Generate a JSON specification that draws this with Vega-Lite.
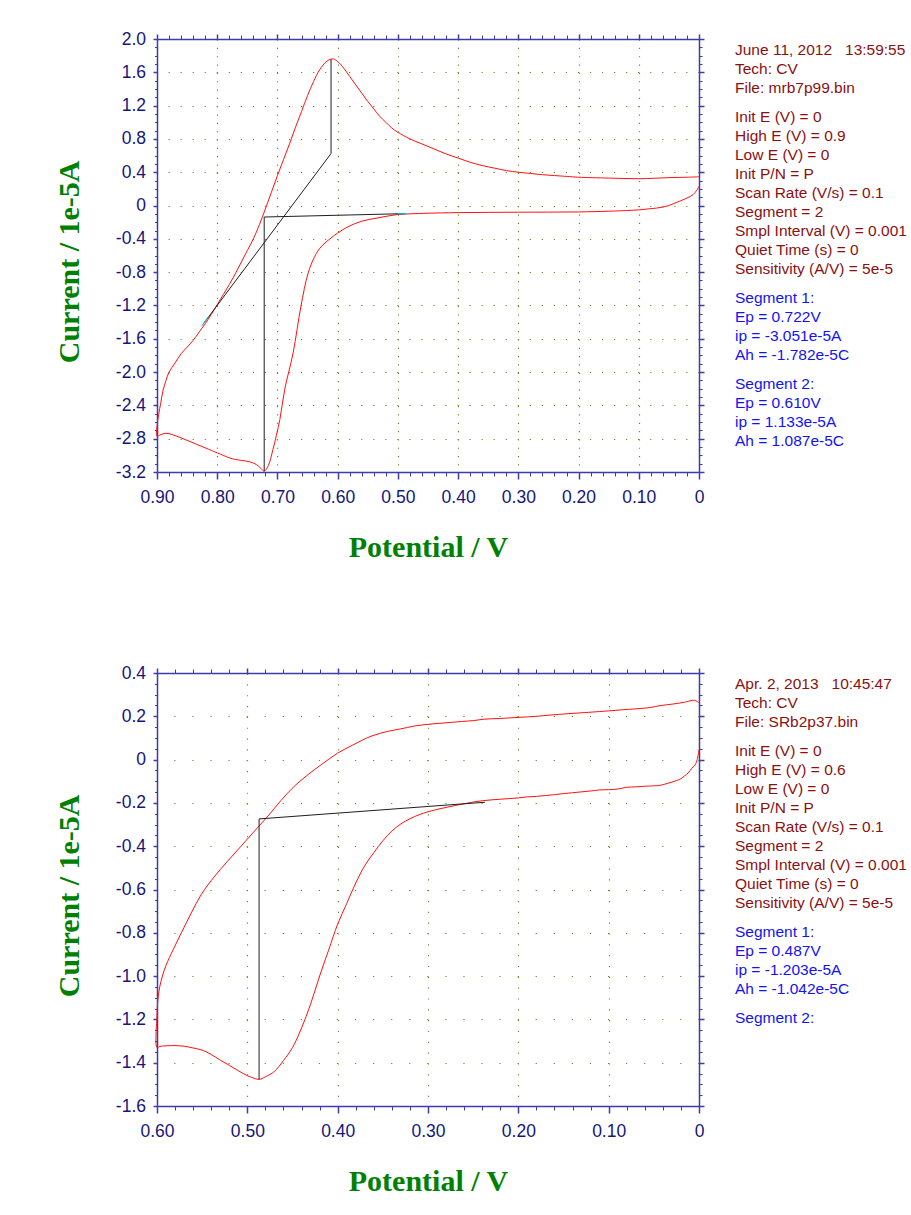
{
  "$schema": "https://vega.github.io/schema/vega-lite/v6.json",
  "padding": {"left": 54, "top": 30, "right": 0, "bottom": 0},
  "background": "white",
  "config": {"view": {"stroke": null}, "font": "Liberation Sans"},
  "datasets": {
    "cv1": [
      {"i":1,"E":0,"I":0.232},{"i":2,"E":0.004,"I":0.18},{"i":3,"E":0.01,"I":0.13},{"i":4,"E":0.02,"I":0.09},{"i":5,"E":0.03,"I":0.058},{"i":6,"E":0.04,"I":0.03},{"i":7,"E":0.05,"I":0.0},{"i":8,"E":0.06,"I":-0.018},{"i":9,"E":0.07,"I":-0.03},{"i":10,"E":0.08,"I":-0.037},{"i":11,"E":0.1,"I":-0.052},{"i":12,"E":0.12,"I":-0.06},{"i":13,"E":0.15,"I":-0.068},{"i":14,"E":0.2,"I":-0.077},{"i":15,"E":0.25,"I":-0.079},{"i":16,"E":0.3,"I":-0.08},{"i":17,"E":0.35,"I":-0.082},{"i":18,"E":0.4,"I":-0.085},{"i":19,"E":0.45,"I":-0.092},{"i":20,"E":0.48,"I":-0.1},{"i":21,"E":0.5,"I":-0.108},{"i":22,"E":0.533,"I":-0.148},{"i":23,"E":0.561,"I":-0.19},{"i":24,"E":0.583,"I":-0.256},{"i":25,"E":0.6,"I":-0.33},{"i":26,"E":0.611,"I":-0.39},{"i":27,"E":0.627,"I":-0.49},{"i":28,"E":0.638,"I":-0.61},{"i":29,"E":0.649,"I":-0.81},{"i":30,"E":0.661,"I":-1.21},{"i":31,"E":0.674,"I":-1.77},{"i":32,"E":0.688,"I":-2.21},{"i":33,"E":0.696,"I":-2.57},{"i":34,"E":0.7075,"I":-2.93},{"i":35,"E":0.715,"I":-3.12},{"i":36,"E":0.722,"I":-3.19},{"i":37,"E":0.727,"I":-3.16},{"i":38,"E":0.735,"I":-3.11},{"i":39,"E":0.745,"I":-3.08},{"i":40,"E":0.76,"I":-3.06},{"i":41,"E":0.77,"I":-3.05},{"i":42,"E":0.78,"I":-3.03},{"i":43,"E":0.79,"I":-3.0},{"i":44,"E":0.8,"I":-2.97},{"i":45,"E":0.82,"I":-2.91},{"i":46,"E":0.84,"I":-2.85},{"i":47,"E":0.86,"I":-2.79},{"i":48,"E":0.875,"I":-2.75},{"i":49,"E":0.885,"I":-2.735},{"i":50,"E":0.895,"I":-2.755},{"i":51,"E":0.9,"I":-2.77},
      {"i":52,"E":0.9,"I":-2.65},{"i":53,"E":0.897,"I":-2.5},{"i":54,"E":0.894,"I":-2.38},{"i":55,"E":0.89,"I":-2.22},{"i":56,"E":0.885,"I":-2.1},{"i":57,"E":0.88,"I":-2.0},{"i":58,"E":0.87,"I":-1.89},{"i":59,"E":0.86,"I":-1.78},{"i":60,"E":0.85,"I":-1.7},{"i":61,"E":0.84,"I":-1.62},{"i":62,"E":0.83,"I":-1.52},{"i":63,"E":0.82,"I":-1.42},{"i":64,"E":0.81,"I":-1.31},{"i":65,"E":0.8,"I":-1.19},{"i":66,"E":0.79,"I":-1.07},{"i":67,"E":0.78,"I":-0.95},{"i":68,"E":0.77,"I":-0.82},{"i":69,"E":0.76,"I":-0.68},{"i":70,"E":0.75,"I":-0.54},{"i":71,"E":0.74,"I":-0.4},{"i":72,"E":0.73,"I":-0.23},{"i":73,"E":0.72,"I":-0.04},{"i":74,"E":0.71,"I":0.16},{"i":75,"E":0.7,"I":0.36},{"i":76,"E":0.69,"I":0.55},{"i":77,"E":0.68,"I":0.74},{"i":78,"E":0.67,"I":0.94},{"i":79,"E":0.66,"I":1.13},{"i":80,"E":0.65,"I":1.32},{"i":81,"E":0.64,"I":1.49},{"i":82,"E":0.63,"I":1.63},{"i":83,"E":0.62,"I":1.72},{"i":84,"E":0.613,"I":1.755},{"i":85,"E":0.607,"I":1.76},{"i":86,"E":0.6,"I":1.73},{"i":87,"E":0.59,"I":1.65},{"i":88,"E":0.58,"I":1.55},{"i":89,"E":0.57,"I":1.45},{"i":90,"E":0.56,"I":1.35},{"i":91,"E":0.55,"I":1.25},{"i":92,"E":0.54,"I":1.16},{"i":93,"E":0.53,"I":1.07},{"i":94,"E":0.52,"I":1.0},{"i":95,"E":0.51,"I":0.93},{"i":96,"E":0.5,"I":0.88},{"i":97,"E":0.48,"I":0.8},{"i":98,"E":0.46,"I":0.74},{"i":99,"E":0.44,"I":0.68},{"i":100,"E":0.42,"I":0.62},{"i":101,"E":0.4,"I":0.57},{"i":102,"E":0.38,"I":0.52},{"i":103,"E":0.36,"I":0.48},{"i":104,"E":0.34,"I":0.45},{"i":105,"E":0.32,"I":0.42},{"i":106,"E":0.3,"I":0.4},{"i":107,"E":0.28,"I":0.385},{"i":108,"E":0.26,"I":0.37},{"i":109,"E":0.24,"I":0.36},{"i":110,"E":0.22,"I":0.35},{"i":111,"E":0.2,"I":0.34},{"i":112,"E":0.15,"I":0.33},{"i":113,"E":0.1,"I":0.322},{"i":114,"E":0.05,"I":0.335},{"i":115,"E":0.02,"I":0.34},{"i":116,"E":0,"I":0.345}
    ],
    "base1": [
      {"seg":"a","i":1,"E":0.487,"I":-0.097},{"seg":"a","i":2,"E":0.722,"I":-0.138},{"seg":"a","i":3,"E":0.722,"I":-3.19},
      {"seg":"b","i":1,"E":0.824,"I":-1.43},{"seg":"b","i":2,"E":0.611,"I":0.624},{"seg":"b","i":3,"E":0.611,"I":1.757}
    ],
    "cyan1": [
      {"seg":"c","i":1,"E":0.5,"I":-0.1},{"seg":"c","i":2,"E":0.485,"I":-0.097},
      {"seg":"d","i":1,"E":0.826,"I":-1.45},{"seg":"d","i":2,"E":0.815,"I":-1.335}
    ],
    "cv2": [
      {"i":1,"E":0,"I":0.046},{"i":2,"E":0.002,"I":0.0},{"i":3,"E":0.004,"I":-0.022},{"i":4,"E":0.008,"I":-0.04},{"i":5,"E":0.012,"I":-0.062},{"i":6,"E":0.016,"I":-0.075},{"i":7,"E":0.02,"I":-0.088},{"i":8,"E":0.025,"I":-0.097},{"i":9,"E":0.03,"I":-0.104},{"i":10,"E":0.035,"I":-0.11},{"i":11,"E":0.04,"I":-0.116},{"i":12,"E":0.045,"I":-0.12},{"i":13,"E":0.05,"I":-0.121},{"i":14,"E":0.06,"I":-0.123},{"i":15,"E":0.07,"I":-0.126},{"i":16,"E":0.08,"I":-0.128},{"i":17,"E":0.09,"I":-0.136},{"i":18,"E":0.1,"I":-0.139},{"i":19,"E":0.11,"I":-0.14},{"i":20,"E":0.12,"I":-0.145},{"i":21,"E":0.13,"I":-0.149},{"i":22,"E":0.14,"I":-0.153},{"i":23,"E":0.15,"I":-0.157},{"i":24,"E":0.16,"I":-0.162},{"i":25,"E":0.17,"I":-0.166},{"i":26,"E":0.18,"I":-0.17},{"i":27,"E":0.19,"I":-0.172},{"i":28,"E":0.2,"I":-0.177},{"i":29,"E":0.21,"I":-0.18},{"i":30,"E":0.22,"I":-0.183},{"i":31,"E":0.23,"I":-0.186},{"i":32,"E":0.24,"I":-0.19},{"i":33,"E":0.25,"I":-0.196},{"i":34,"E":0.26,"I":-0.204},{"i":35,"E":0.27,"I":-0.212},{"i":36,"E":0.28,"I":-0.221},{"i":37,"E":0.29,"I":-0.23},{"i":38,"E":0.3,"I":-0.241},{"i":39,"E":0.31,"I":-0.255},{"i":40,"E":0.32,"I":-0.273},{"i":41,"E":0.33,"I":-0.297},{"i":42,"E":0.34,"I":-0.33},{"i":43,"E":0.35,"I":-0.375},{"i":44,"E":0.36,"I":-0.43},{"i":45,"E":0.37,"I":-0.49},{"i":46,"E":0.38,"I":-0.57},{"i":47,"E":0.39,"I":-0.665},{"i":48,"E":0.4,"I":-0.76},{"i":49,"E":0.41,"I":-0.88},{"i":50,"E":0.42,"I":-1.0},{"i":51,"E":0.43,"I":-1.13},{"i":52,"E":0.44,"I":-1.24},{"i":53,"E":0.45,"I":-1.33},{"i":54,"E":0.46,"I":-1.39},{"i":55,"E":0.47,"I":-1.44},{"i":56,"E":0.48,"I":-1.465},{"i":57,"E":0.487,"I":-1.477},{"i":58,"E":0.495,"I":-1.468},{"i":59,"E":0.5,"I":-1.46},{"i":60,"E":0.51,"I":-1.437},{"i":61,"E":0.52,"I":-1.412},{"i":62,"E":0.53,"I":-1.388},{"i":63,"E":0.54,"I":-1.362},{"i":64,"E":0.55,"I":-1.342},{"i":65,"E":0.56,"I":-1.332},{"i":66,"E":0.57,"I":-1.324},{"i":67,"E":0.58,"I":-1.321},{"i":68,"E":0.59,"I":-1.322},{"i":69,"E":0.597,"I":-1.325},{"i":70,"E":0.6,"I":-1.33},
      {"i":71,"E":0.6,"I":-1.18},{"i":72,"E":0.599,"I":-1.108},{"i":73,"E":0.597,"I":-1.05},{"i":74,"E":0.594,"I":-1.0},{"i":75,"E":0.59,"I":-0.95},{"i":76,"E":0.582,"I":-0.877},{"i":77,"E":0.573,"I":-0.8},{"i":78,"E":0.562,"I":-0.708},{"i":79,"E":0.551,"I":-0.623},{"i":80,"E":0.536,"I":-0.538},{"i":81,"E":0.522,"I":-0.47},{"i":82,"E":0.507,"I":-0.4},{"i":83,"E":0.492,"I":-0.33},{"i":84,"E":0.477,"I":-0.26},{"i":85,"E":0.463,"I":-0.19},{"i":86,"E":0.448,"I":-0.123},{"i":87,"E":0.433,"I":-0.07},{"i":88,"E":0.418,"I":-0.023},{"i":89,"E":0.4,"I":0.03},{"i":90,"E":0.382,"I":0.07},{"i":91,"E":0.363,"I":0.108},{"i":92,"E":0.345,"I":0.13},{"i":93,"E":0.33,"I":0.142},{"i":94,"E":0.315,"I":0.155},{"i":95,"E":0.3,"I":0.163},{"i":96,"E":0.28,"I":0.17},{"i":97,"E":0.263,"I":0.176},{"i":98,"E":0.25,"I":0.18},{"i":99,"E":0.237,"I":0.187},{"i":100,"E":0.22,"I":0.19},{"i":101,"E":0.2,"I":0.195},{"i":102,"E":0.18,"I":0.2},{"i":103,"E":0.164,"I":0.206},{"i":104,"E":0.145,"I":0.212},{"i":105,"E":0.127,"I":0.217},{"i":106,"E":0.11,"I":0.222},{"i":107,"E":0.1,"I":0.225},{"i":108,"E":0.085,"I":0.23},{"i":109,"E":0.071,"I":0.234},{"i":110,"E":0.055,"I":0.24},{"i":111,"E":0.042,"I":0.25},{"i":112,"E":0.03,"I":0.256},{"i":113,"E":0.016,"I":0.265},{"i":114,"E":0.005,"I":0.274},{"i":115,"E":0,"I":0.262}
    ],
    "base2": [
      {"seg":"a","i":1,"E":0.237,"I":-0.197},{"seg":"a","i":2,"E":0.487,"I":-0.274},{"seg":"a","i":3,"E":0.487,"I":-1.477}
    ],
    "txt1": [
      {"col":0,"k":0,"kind":"info","t":"June 11, 2012\u00a0\u00a0\u00a013:59:55"},
      {"col":0,"k":1,"kind":"info","t":"Tech: CV"},
      {"col":0,"k":2,"kind":"info","t":"File: mrb7p99.bin"},
      {"col":0,"k":3.5,"kind":"info","t":"Init E (V) = 0"},
      {"col":0,"k":4.5,"kind":"info","t":"High E (V) = 0.9"},
      {"col":0,"k":5.5,"kind":"info","t":"Low E (V) = 0"},
      {"col":0,"k":6.5,"kind":"info","t":"Init P/N = P"},
      {"col":0,"k":7.5,"kind":"info","t":"Scan Rate (V/s) = 0.1"},
      {"col":0,"k":8.5,"kind":"info","t":"Segment = 2"},
      {"col":0,"k":9.5,"kind":"info","t":"Smpl Interval (V) = 0.001"},
      {"col":0,"k":10.5,"kind":"info","t":"Quiet Time (s) = 0"},
      {"col":0,"k":11.5,"kind":"info","t":"Sensitivity (A/V) = 5e-5"},
      {"col":0,"k":13,"kind":"result","t":"Segment 1:"},
      {"col":0,"k":14,"kind":"result","t":"Ep = 0.722V"},
      {"col":0,"k":15,"kind":"result","t":"ip = -3.051e-5A"},
      {"col":0,"k":16,"kind":"result","t":"Ah = -1.782e-5C"},
      {"col":0,"k":17.5,"kind":"result","t":"Segment 2:"},
      {"col":0,"k":18.5,"kind":"result","t":"Ep = 0.610V"},
      {"col":0,"k":19.5,"kind":"result","t":"ip = 1.133e-5A"},
      {"col":0,"k":20.5,"kind":"result","t":"Ah = 1.087e-5C"}
    ],
    "txt2": [
      {"col":0,"k":0,"kind":"info","t":"Apr. 2, 2013\u00a0\u00a0\u00a010:45:47"},
      {"col":0,"k":1,"kind":"info","t":"Tech: CV"},
      {"col":0,"k":2,"kind":"info","t":"File: SRb2p37.bin"},
      {"col":0,"k":3.5,"kind":"info","t":"Init E (V) = 0"},
      {"col":0,"k":4.5,"kind":"info","t":"High E (V) = 0.6"},
      {"col":0,"k":5.5,"kind":"info","t":"Low E (V) = 0"},
      {"col":0,"k":6.5,"kind":"info","t":"Init P/N = P"},
      {"col":0,"k":7.5,"kind":"info","t":"Scan Rate (V/s) = 0.1"},
      {"col":0,"k":8.5,"kind":"info","t":"Segment = 2"},
      {"col":0,"k":9.5,"kind":"info","t":"Smpl Interval (V) = 0.001"},
      {"col":0,"k":10.5,"kind":"info","t":"Quiet Time (s) = 0"},
      {"col":0,"k":11.5,"kind":"info","t":"Sensitivity (A/V) = 5e-5"},
      {"col":0,"k":13,"kind":"result","t":"Segment 1:"},
      {"col":0,"k":14,"kind":"result","t":"Ep = 0.487V"},
      {"col":0,"k":15,"kind":"result","t":"ip = -1.203e-5A"},
      {"col":0,"k":16,"kind":"result","t":"Ah = -1.042e-5C"},
      {"col":0,"k":17.5,"kind":"result","t":"Segment 2:"}
    ]
  },
  "columns": 2,
  "spacing": {"row": 201, "column": 36},
  "bounds": "flush",
  "concat": [
    {
      "width": 542, "height": 433,
      "resolve": {"axis": {"x": "independent", "y": "independent"}},
      "layer": [
        {
          "data": {"name": "cv1"},
          "mark": {"type": "line", "color": "#ff1010", "strokeWidth": 1, "interpolate": "catmull-rom"},
          "encoding": {
            "x": {"field": "E", "type": "quantitative",
              "scale": {"domain": [0, 0.9], "reverse": true, "nice": false, "zero": false},
              "axis": {"orient": "bottom", "values": [0.9,0.8,0.7,0.6,0.5,0.4,0.3,0.2,0.1,0],
                "labelExpr": "datum.value === 0 ? '0' : format(datum.value, '.2f')",
                "labelFont": "Liberation Sans", "labelFontSize": 17.5, "labelColor": "#16167a", "labelPadding": 9,
                "labelFlush": false, "labelOverlap": false,
                "domain": true, "domainColor": "#3c3cae", "domainWidth": 1.5,
                "ticks": true, "tickSize": 7, "tickColor": "#3c3cae", "tickWidth": 1.5,
                "grid": true, "gridColor": "#6b8e23", "gridDash": [1.2, 7.13], "gridWidth": 1.2,
                "title": "Potential / V", "titleFont": "Liberation Serif", "titleFontSize": 30, "titleFontWeight": "bold",
                "titleColor": "#008000", "titleX": 271, "titleY": 84.7, "titleBaseline": "alphabetic", "titleAlign": "center", "titleAngle": 0}},
            "y": {"field": "I", "type": "quantitative",
              "scale": {"domain": [-3.2, 2.0], "nice": false, "zero": false},
              "axis": {"orient": "left", "values": [-3.2,-2.8,-2.4,-2.0,-1.6,-1.2,-0.8,-0.4,0,0.4,0.8,1.2,1.6,2.0],
                "labelExpr": "datum.value === 0 ? '0' : replace(format(datum.value, '.1f'), '\u2212', '-')",
                "labelFont": "Liberation Sans", "labelFontSize": 17.5, "labelColor": "#16167a", "labelPadding": 7.5,
                "labelFlush": false, "labelOverlap": false,
                "domain": true, "domainColor": "#3c3cae", "domainWidth": 1.5,
                "ticks": true, "tickSize": 4, "tickColor": "#3c3cae", "tickWidth": 1.5,
                "grid": true, "gridColor": "#6b8e23", "gridDash": [1.2, 10.84], "gridWidth": 1.2,
                "title": "Current / 1e-5A", "titleFont": "Liberation Serif", "titleFontSize": 30, "titleFontWeight": "bold",
                "titleColor": "#008000", "titleX": -78.2, "titleY": 222.4, "titleBaseline": "alphabetic", "titleAlign": "center", "titleAngle": 270}},
            "order": {"field": "i"}
          }
        },
        {
          "data": {"name": "base1"},
          "mark": {"type": "line", "color": "#1e1e1e", "strokeWidth": 1},
          "encoding": {
            "x": {"field": "E", "type": "quantitative", "scale": {"domain": [0, 0.9], "reverse": true, "nice": false, "zero": false}, "axis": null},
            "y": {"field": "I", "type": "quantitative", "scale": {"domain": [-3.2, 2.0], "nice": false, "zero": false}, "axis": null},
            "detail": {"field": "seg"},
            "order": {"field": "i"}
          }
        },
        {
          "data": {"name": "cyan1"},
          "mark": {"type": "line", "color": "#00dddd", "strokeWidth": 1},
          "encoding": {
            "x": {"field": "E", "type": "quantitative", "scale": {"domain": [0, 0.9], "reverse": true, "nice": false, "zero": false}, "axis": null},
            "y": {"field": "I", "type": "quantitative", "scale": {"domain": [-3.2, 2.0], "nice": false, "zero": false}, "axis": null},
            "detail": {"field": "seg"},
            "order": {"field": "i"}
          }
        },
        {
          "data": {"values": []},
          "mark": "point",
          "encoding": {
            "x": {"field": "E", "type": "quantitative", "scale": {"domain": [0, 0.9], "reverse": true, "nice": false, "zero": false},
              "axis": {"orient": "bottom", "values": [0,0.02,0.04,0.06,0.08,0.12,0.14,0.16,0.18,0.22,0.24,0.26,0.28,0.32,0.34,0.36,0.38,0.42,0.44,0.46,0.48,0.52,0.54,0.56,0.58,0.62,0.64,0.66,0.68,0.72,0.74,0.76,0.78,0.82,0.84,0.86,0.88],
                "labels": false, "domain": false, "grid": false, "title": null, "tickSize": 4, "tickColor": "#3c3cae", "tickWidth": 1}},
            "y": {"field": "I", "type": "quantitative", "scale": {"domain": [-3.2, 2.0], "nice": false, "zero": false},
              "axis": {"orient": "left", "values": [-3.1,-3.0,-2.9,-2.7,-2.6,-2.5,-2.3,-2.2,-2.1,-1.9,-1.8,-1.7,-1.5,-1.4,-1.3,-1.1,-1.0,-0.9,-0.7,-0.6,-0.5,-0.3,-0.2,-0.1,0.1,0.2,0.3,0.5,0.6,0.7,0.9,1.0,1.1,1.3,1.4,1.5,1.7,1.8,1.9],
                "labels": false, "domain": false, "grid": false, "title": null, "tickSize": 2.5, "tickColor": "#3c3cae", "tickWidth": 1}}
          }
        },
        {
          "data": {"values": []},
          "mark": "point",
          "encoding": {
            "x": {"field": "E", "type": "quantitative", "scale": {"domain": [0, 0.9], "reverse": true, "nice": false, "zero": false},
              "axis": {"orient": "top", "values": [0.9,0.8,0.7,0.6,0.5,0.4,0.3,0.2,0.1,0],
                "labels": false, "domain": true, "domainColor": "#3c3cae", "domainWidth": 1.5, "grid": false, "title": null, "tickSize": 5, "tickColor": "#3c3cae", "tickWidth": 1.5}},
            "y": {"field": "I", "type": "quantitative", "scale": {"domain": [-3.2, 2.0], "nice": false, "zero": false},
              "axis": {"orient": "right", "values": [-3.2,-2.8,-2.4,-2.0,-1.6,-1.2,-0.8,-0.4,0,0.4,0.8,1.2,1.6,2.0],
                "labels": false, "domain": true, "domainColor": "#3c3cae", "domainWidth": 1.5, "grid": false, "title": null, "tickSize": 5, "tickColor": "#3c3cae", "tickWidth": 1.5}}
          }
        },
        {
          "data": {"values": []},
          "mark": "point",
          "encoding": {
            "x": {"field": "E", "type": "quantitative", "scale": {"domain": [0, 0.9], "reverse": true, "nice": false, "zero": false},
              "axis": {"orient": "top", "values": [0.02,0.04,0.06,0.08,0.12,0.14,0.16,0.18,0.22,0.24,0.26,0.28,0.32,0.34,0.36,0.38,0.42,0.44,0.46,0.48,0.52,0.54,0.56,0.58,0.62,0.64,0.66,0.68,0.72,0.74,0.76,0.78,0.82,0.84,0.86,0.88],
                "labels": false, "domain": false, "grid": false, "title": null, "tickSize": 4, "tickColor": "#3c3cae", "tickWidth": 1}},
            "y": {"field": "I", "type": "quantitative", "scale": {"domain": [-3.2, 2.0], "nice": false, "zero": false},
              "axis": {"orient": "right", "values": [-3.1,-3.0,-2.9,-2.7,-2.6,-2.5,-2.3,-2.2,-2.1,-1.9,-1.8,-1.7,-1.5,-1.4,-1.3,-1.1,-1.0,-0.9,-0.7,-0.6,-0.5,-0.3,-0.2,-0.1,0.1,0.2,0.3,0.5,0.6,0.7,0.9,1.0,1.1,1.3,1.4,1.5,1.7,1.8,1.9],
                "labels": false, "domain": false, "grid": false, "title": null, "tickSize": 3, "tickColor": "#3c3cae", "tickWidth": 1}}
          }
        }
      ]
    },
    {
      "width": 175, "height": 433,
      "data": {"name": "txt1"},
      "mark": {"type": "text", "align": "left", "baseline": "middle", "font": "Liberation Sans", "fontSize": 15.5},
      "encoding": {
        "x": {"field": "col", "type": "quantitative", "scale": {"domain": [0, 1], "nice": false, "zero": false}, "axis": null},
        "y": {"field": "k", "type": "quantitative", "scale": {"domain": [-0.56, 22.11], "reverse": true, "nice": false, "zero": false}, "axis": null},
        "text": {"field": "t"},
        "color": {"field": "kind", "type": "nominal", "scale": {"domain": ["info", "result"], "range": ["#8b1010", "#1212f5"]}, "legend": null}
      }
    },
    {
      "width": 542, "height": 433,
      "resolve": {"axis": {"x": "independent", "y": "independent"}},
      "layer": [
        {
          "data": {"name": "cv2"},
          "mark": {"type": "line", "color": "#ff1010", "strokeWidth": 1, "interpolate": "catmull-rom"},
          "encoding": {
            "x": {"field": "E", "type": "quantitative",
              "scale": {"domain": [0, 0.6], "reverse": true, "nice": false, "zero": false},
              "axis": {"orient": "bottom", "values": [0.6,0.5,0.4,0.3,0.2,0.1,0],
                "labelExpr": "datum.value === 0 ? '0' : format(datum.value, '.2f')",
                "labelFont": "Liberation Sans", "labelFontSize": 17.5, "labelColor": "#16167a", "labelPadding": 9,
                "labelFlush": false, "labelOverlap": false,
                "domain": true, "domainColor": "#3c3cae", "domainWidth": 1.5,
                "ticks": true, "tickSize": 7, "tickColor": "#3c3cae", "tickWidth": 1.5,
                "grid": true, "gridColor": "#6b8e23", "gridDash": [1.2, 9.63], "gridWidth": 1.2,
                "title": "Potential / V", "titleFont": "Liberation Serif", "titleFontSize": 30, "titleFontWeight": "bold",
                "titleColor": "#008000", "titleX": 271, "titleY": 84.7, "titleBaseline": "alphabetic", "titleAlign": "center", "titleAngle": 0}},
            "y": {"field": "I", "type": "quantitative",
              "scale": {"domain": [-1.6, 0.4], "nice": false, "zero": false},
              "axis": {"orient": "left", "values": [-1.6,-1.4,-1.2,-1.0,-0.8,-0.6,-0.4,-0.2,0,0.2,0.4],
                "labelExpr": "datum.value === 0 ? '0' : replace(format(datum.value, '.1f'), '\u2212', '-')",
                "labelFont": "Liberation Sans", "labelFontSize": 17.5, "labelColor": "#16167a", "labelPadding": 7.5,
                "labelFlush": false, "labelOverlap": false,
                "domain": true, "domainColor": "#3c3cae", "domainWidth": 1.5,
                "ticks": true, "tickSize": 4, "tickColor": "#3c3cae", "tickWidth": 1.5,
                "grid": true, "gridColor": "#6b8e23", "gridDash": [1.2, 16.87], "gridWidth": 1.2,
                "title": "Current / 1e-5A", "titleFont": "Liberation Serif", "titleFontSize": 30, "titleFontWeight": "bold",
                "titleColor": "#008000", "titleX": -78.2, "titleY": 222.4, "titleBaseline": "alphabetic", "titleAlign": "center", "titleAngle": 270}},
            "order": {"field": "i"}
          }
        },
        {
          "data": {"name": "base2"},
          "mark": {"type": "line", "color": "#1e1e1e", "strokeWidth": 1},
          "encoding": {
            "x": {"field": "E", "type": "quantitative", "scale": {"domain": [0, 0.6], "reverse": true, "nice": false, "zero": false}, "axis": null},
            "y": {"field": "I", "type": "quantitative", "scale": {"domain": [-1.6, 0.4], "nice": false, "zero": false}, "axis": null},
            "detail": {"field": "seg"},
            "order": {"field": "i"}
          }
        },
        {
          "data": {"values": []},
          "mark": "point",
          "encoding": {
            "x": {"field": "E", "type": "quantitative", "scale": {"domain": [0, 0.6], "reverse": true, "nice": false, "zero": false},
              "axis": {"orient": "bottom", "values": [0.02,0.04,0.06,0.08,0.12,0.14,0.16,0.18,0.22,0.24,0.26,0.28,0.32,0.34,0.36,0.38,0.42,0.44,0.46,0.48,0.52,0.54,0.56,0.58],
                "labels": false, "domain": false, "grid": false, "title": null, "tickSize": 4, "tickColor": "#3c3cae", "tickWidth": 1}},
            "y": {"field": "I", "type": "quantitative", "scale": {"domain": [-1.6, 0.4], "nice": false, "zero": false},
              "axis": {"orient": "left", "values": [-1.55,-1.5,-1.45,-1.35,-1.3,-1.25,-1.15,-1.1,-1.05,-0.95,-0.9,-0.85,-0.75,-0.7,-0.65,-0.55,-0.5,-0.45,-0.35,-0.3,-0.25,-0.15,-0.1,-0.05,0.05,0.1,0.15,0.25,0.3,0.35],
                "labels": false, "domain": false, "grid": false, "title": null, "tickSize": 2.5, "tickColor": "#3c3cae", "tickWidth": 1}}
          }
        },
        {
          "data": {"values": []},
          "mark": "point",
          "encoding": {
            "x": {"field": "E", "type": "quantitative", "scale": {"domain": [0, 0.6], "reverse": true, "nice": false, "zero": false},
              "axis": {"orient": "top", "values": [0.6,0.5,0.4,0.3,0.2,0.1,0],
                "labels": false, "domain": true, "domainColor": "#3c3cae", "domainWidth": 1.5, "grid": false, "title": null, "tickSize": 5, "tickColor": "#3c3cae", "tickWidth": 1.5}},
            "y": {"field": "I", "type": "quantitative", "scale": {"domain": [-1.6, 0.4], "nice": false, "zero": false},
              "axis": {"orient": "right", "values": [-1.6,-1.4,-1.2,-1.0,-0.8,-0.6,-0.4,-0.2,0,0.2,0.4],
                "labels": false, "domain": true, "domainColor": "#3c3cae", "domainWidth": 1.5, "grid": false, "title": null, "tickSize": 5, "tickColor": "#3c3cae", "tickWidth": 1.5}}
          }
        },
        {
          "data": {"values": []},
          "mark": "point",
          "encoding": {
            "x": {"field": "E", "type": "quantitative", "scale": {"domain": [0, 0.6], "reverse": true, "nice": false, "zero": false},
              "axis": {"orient": "top", "values": [0.02,0.04,0.06,0.08,0.12,0.14,0.16,0.18,0.22,0.24,0.26,0.28,0.32,0.34,0.36,0.38,0.42,0.44,0.46,0.48,0.52,0.54,0.56,0.58],
                "labels": false, "domain": false, "grid": false, "title": null, "tickSize": 4, "tickColor": "#3c3cae", "tickWidth": 1}},
            "y": {"field": "I", "type": "quantitative", "scale": {"domain": [-1.6, 0.4], "nice": false, "zero": false},
              "axis": {"orient": "right", "values": [-1.55,-1.5,-1.45,-1.35,-1.3,-1.25,-1.15,-1.1,-1.05,-0.95,-0.9,-0.85,-0.75,-0.7,-0.65,-0.55,-0.5,-0.45,-0.35,-0.3,-0.25,-0.15,-0.1,-0.05,0.05,0.1,0.15,0.25,0.3,0.35],
                "labels": false, "domain": false, "grid": false, "title": null, "tickSize": 3, "tickColor": "#3c3cae", "tickWidth": 1}}
          }
        }
      ]
    },
    {
      "width": 175, "height": 433,
      "data": {"name": "txt2"},
      "mark": {"type": "text", "align": "left", "baseline": "middle", "font": "Liberation Sans", "fontSize": 15.5},
      "encoding": {
        "x": {"field": "col", "type": "quantitative", "scale": {"domain": [0, 1], "nice": false, "zero": false}, "axis": null},
        "y": {"field": "k", "type": "quantitative", "scale": {"domain": [-0.56, 22.11], "reverse": true, "nice": false, "zero": false}, "axis": null},
        "text": {"field": "t"},
        "color": {"field": "kind", "type": "nominal", "scale": {"domain": ["info", "result"], "range": ["#8b1010", "#1212f5"]}, "legend": null}
      }
    }
  ]
}
